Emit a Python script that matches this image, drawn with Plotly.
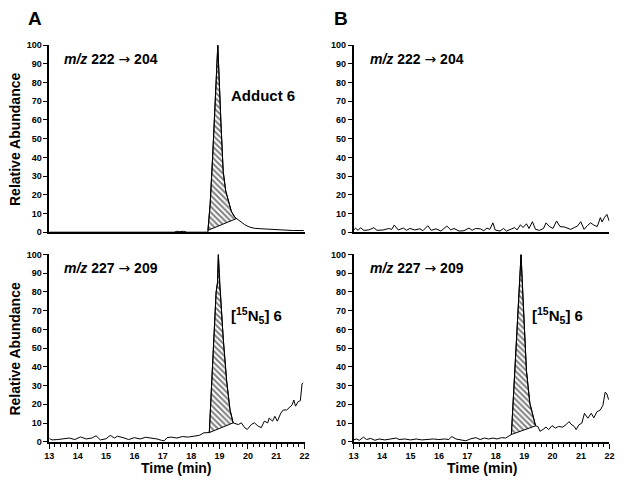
import plotly.graph_objects as go

# ---------------- data ----------------
# Panel A, m/z 222 -> 204 (Adduct 6)
a_top_pre_t = [13.0, 17.40, 17.50, 17.60, 17.75, 17.85, 18.59]
a_top_pre_v = [0.0, 0.0, 0.5, 0.3, 0.5, 0.0, 0.0]
a_top_peak_t = [18.59, 18.67, 18.76, 18.87, 18.94, 19.05, 19.13, 19.22, 19.31, 19.42, 19.54, 19.60]
a_top_peak_v = [1.0, 15.0, 41.0, 76.0, 100.0, 58.6, 32.5, 22.0, 16.8, 11.0, 8.0, 7.3]
a_top_post_t = [19.60, 19.75, 19.89, 20.05, 20.23, 20.50, 20.70, 21.00, 21.27, 21.60, 21.97]
a_top_post_v = [7.3, 5.5, 4.0, 2.8, 2.1, 1.8, 1.6, 1.3, 1.1, 0.9, 0.9]

# Panel A, m/z 227 -> 209 ([15N5] 6)
a_bot_pre_t = [13.00, 13.10, 13.30, 13.50, 13.70, 13.90, 14.10, 14.30, 14.50, 14.65, 14.80,
               15.00, 15.15, 15.30, 15.40, 15.60, 15.80, 16.00, 16.20, 16.40, 16.60, 16.80,
               16.95, 17.05, 17.15, 17.30, 17.50, 17.70, 17.90, 18.10, 18.30, 18.45, 18.64]
a_bot_pre_v = [1.7, 1.0, 1.2, 1.8, 2.0, 1.2, 2.6, 1.5, 2.0, 3.2, 1.0,
               1.6, 3.4, 2.0, 3.0, 2.2, 1.2, 2.2, 1.5, 2.4, 2.0, 1.5,
               0.8, 0.5, 2.2, 2.5, 2.0, 2.8, 2.5, 3.2, 3.5, 4.8, 4.9]
a_bot_peak_t = [18.64, 18.88, 18.93, 18.96, 19.00, 19.03, 19.13, 19.25, 19.37, 19.48]
a_bot_peak_v = [4.9, 79.8, 85.0, 100.0, 85.0, 79.8, 55.4, 32.8, 17.1, 10.1]
a_bot_post_t = [19.48, 19.66, 19.77, 19.89, 19.98, 20.12, 20.23, 20.35, 20.47, 20.58, 20.70,
                20.75, 20.87, 20.95, 21.04, 21.16, 21.25, 21.37, 21.45, 21.56, 21.62, 21.68,
                21.77, 21.85, 21.91, 21.95]
a_bot_post_v = [10.1, 9.2, 10.1, 7.5, 6.6, 9.2, 10.1, 8.5, 7.5, 11.0, 10.1,
                12.7, 11.0, 13.6, 11.0, 15.3, 17.0, 17.0, 18.0, 19.7, 22.3, 19.0,
                21.4, 22.0, 31.0, 31.4]

# Panel B, m/z 222 -> 204 (noise only)
b_top_t = [13.00, 13.07, 13.16, 13.24, 13.36, 13.53, 13.71, 13.82, 14.05, 14.23, 14.34, 14.43,
           14.57, 14.75, 14.86, 14.98, 15.15, 15.33, 15.44, 15.61, 15.73, 15.90, 16.07, 16.28,
           16.42, 16.53, 16.71, 16.88, 17.06, 17.17, 17.29, 17.46, 17.58, 17.69, 17.79, 17.90,
           17.98, 18.15, 18.27, 18.38, 18.56, 18.67, 18.75, 18.87, 18.96, 19.08, 19.17, 19.29,
           19.40, 19.54, 19.68, 19.77, 19.89, 20.01, 20.14, 20.26, 20.41, 20.53, 20.64, 20.76,
           20.87, 20.99, 21.11, 21.22, 21.34, 21.45, 21.57, 21.68, 21.74, 21.83, 21.91, 21.99]
b_top_v = [1.2, 2.1, 1.0, 2.4, 1.0, 1.2, 2.4, 1.0, 1.2, 2.0, 1.5, 3.8,
           1.2, 2.2, 1.0, 2.0, 1.2, 1.8, 0.8, 3.5, 1.0, 1.8, 0.6, 3.3,
           1.2, 2.0, 0.6, 0.8, 2.2, 1.0, 2.0, 1.8, 0.8, 2.2, 1.5, 5.0,
           1.2, 0.6, 2.0, 0.6, 1.8, 2.5, 1.2, 4.0, 2.5, 4.5, 2.0, 5.6,
           1.5, 1.0, 2.0, 5.0, 3.0, 2.0, 6.0, 3.0, 2.8, 2.2, 1.5, 2.5,
           3.2, 5.6, 1.5, 3.5, 5.0, 3.8, 3.0, 7.8, 5.5, 8.0, 9.5, 6.0]

# Panel B, m/z 227 -> 209 ([15N5] 6)
b_bot_pre_t = [13.00, 13.10, 13.20, 13.35, 13.45, 13.60, 13.75, 13.90, 14.10, 14.30, 14.50, 14.60,
               14.80, 15.00, 15.20, 15.40, 15.60, 15.80, 16.00, 16.20, 16.35, 16.45, 16.60, 16.80,
               16.95, 17.10, 17.30, 17.45, 17.60, 17.75, 17.90, 18.05, 18.20, 18.35, 18.45, 18.55]
b_bot_pre_v = [1.0, 1.5, 0.8, 2.5, 1.2, 1.8, 0.8, 1.5, 1.0, 1.6, 2.0, 1.2,
               1.5, 1.0, 1.5, 1.0, 1.2, 1.5, 1.2, 1.5, 1.2, 2.8, 1.5, 0.8,
               0.5, 1.5, 2.2, 1.2, 2.0, 1.5, 2.0, 1.5, 2.2, 2.0, 3.0, 3.9]
b_bot_peak_t = [18.55, 18.89, 18.97, 19.08, 19.20, 19.40]
b_bot_peak_v = [3.9, 100.0, 72.7, 38.0, 20.5, 8.5]
b_bot_post_t = [19.40, 19.48, 19.56, 19.68, 19.77, 19.86, 19.98, 20.10, 20.21, 20.35, 20.47,
                20.58, 20.64, 20.76, 20.83, 20.92, 21.03, 21.12, 21.24, 21.36, 21.45, 21.56,
                21.68, 21.77, 21.85, 21.91, 21.97]
b_bot_post_v = [8.5, 8.2, 5.6, 6.8, 7.9, 6.5, 8.6, 7.3, 8.2, 7.8, 9.1,
                10.8, 9.5, 8.2, 6.5, 9.0, 10.0, 15.2, 12.6, 15.2, 12.8, 16.0,
                17.0, 19.5, 26.5, 25.5, 22.5]

x_ticks = [13, 14, 15, 16, 17, 18, 19, 20, 21, 22]
y_ticks = [0, 10, 20, 30, 40, 50, 60, 70, 80, 90, 100]

FONT = "Liberation Sans, Arial, sans-serif"
W, H = 624, 484

fig = go.Figure()

panels = [
    ("x", "y", a_top_pre_t, a_top_pre_v, a_top_peak_t, a_top_peak_v, a_top_post_t, a_top_post_v),
    ("x3", "y3", a_bot_pre_t, a_bot_pre_v, a_bot_peak_t, a_bot_peak_v, a_bot_post_t, a_bot_post_v),
    ("x4", "y4", b_bot_pre_t, b_bot_pre_v, b_bot_peak_t, b_bot_peak_v, b_bot_post_t, b_bot_post_v),
]

for xa, ya, pt, pv, kt, kv, ot, ov in panels:
    # hatched peak area closed by a straight baseline
    fig.add_trace(go.Scatter(
        x=kt + [kt[0]], y=kv + [kv[0]], xaxis=xa, yaxis=ya, mode="lines",
        fill="toself", fillcolor="white",
        fillpattern=dict(shape="\\", fgcolor="black", bgcolor="white", size=4, solidity=0.5),
        line=dict(color="black", width=1), hoverinfo="skip", showlegend=False))
    fig.add_trace(go.Scatter(
        x=pt + kt[1:] + ot[1:], y=pv + kv[1:] + ov[1:], xaxis=xa, yaxis=ya, mode="lines",
        line=dict(color="black", width=1), showlegend=False))

fig.add_trace(go.Scatter(x=b_top_t, y=b_top_v, xaxis="x2", yaxis="y2", mode="lines",
                         line=dict(color="black", width=1), showlegend=False))

xL = [45 / W, 304.5 / W]
xR = [354.3 / W, 614.3 / W]
yT = [1 - 232 / H, 1 - 41 / H]
yB = [1 - 446 / H, 1 - 254.7 / H]

tickfont = dict(family=FONT, size=9, color="black", weight="bold")


def yax(domain, anchor):
    return dict(domain=domain, anchor=anchor, range=[0, 100], tickvals=y_ticks,
                ticks="outside", ticklen=4, tickwidth=1.2, tickcolor="black",
                showline=True, linecolor="black", linewidth=1.6,
                showgrid=False, zeroline=False, tickfont=tickfont, fixedrange=True)


def xax(domain, anchor, labels):
    d = dict(domain=domain, anchor=anchor, range=[13, 22], showline=True,
             linecolor="black", linewidth=1.6, showgrid=False, zeroline=False,
             tickfont=tickfont, fixedrange=True)
    if labels:
        d.update(tickvals=x_ticks, ticks="outside", ticklen=5, tickwidth=1.2,
                 tickcolor="black", showticklabels=True,
                 minor=dict(dtick=0.2, ticks="outside", ticklen=3, tickwidth=1,
                            tickcolor="black", showgrid=False))
    else:
        d.update(ticks="", showticklabels=False)
    return d


fig.update_layout(
    width=W, height=H, margin=dict(l=0, r=0, t=0, b=0),
    paper_bgcolor="white", plot_bgcolor="white",
    font=dict(family=FONT, color="black"),
    xaxis=xax(xL, "y", False), yaxis=yax(yT, "x"),
    xaxis2=xax(xR, "y2", False), yaxis2=yax(yT, "x2"),
    xaxis3=xax(xL, "y3", True), yaxis3=yax(yB, "x3"),
    xaxis4=xax(xR, "y4", True), yaxis4=yax(yB, "x4"),
)

bold14 = dict(family=FONT, size=14, color="black", weight="bold")
ARROW = '<span style="font-family:DejaVu Sans;font-weight:normal">→</span>'
ann = []


def paper_text(text, xc, yc, font, angle=0):
    ann.append(dict(text=text, x=xc / W, y=1 - yc / H, xref="paper", yref="paper",
                    xanchor="center", yanchor="middle", textangle=angle,
                    showarrow=False, font=font))


letter_font = dict(family=FONT, size=19, color="black", weight="bold")
paper_text("A", 30.5, 13.5, letter_font)
paper_text("B", 341.5, 13.5, letter_font)
for yc in (137, 351):
    paper_text("Relative Abundance", 10, yc, bold14, -90)
for xc in (174, 485):
    paper_text("Time (min)", xc, 472.5, bold14)

for xa, ya, txt, x0 in [("x", "y", f"<i>m/z</i> 222 {ARROW} 204", 13.45),
                        ("x2", "y2", f"<i>m/z</i> 222 {ARROW} 204", 13.51),
                        ("x3", "y3", f"<i>m/z</i> 227 {ARROW} 209", 13.45),
                        ("x4", "y4", f"<i>m/z</i> 227 {ARROW} 209", 13.51)]:
    ann.append(dict(text=txt, x=x0, y=92.5, xref=xa, yref=ya, xanchor="left",
                    yanchor="middle", showarrow=False, font=bold14))

ann.append(dict(text="Adduct 6", x=19.32, y=73.3, xref="x", yref="y", xanchor="left",
                yanchor="middle", showarrow=False, font=dict(bold14, size=15)))
for xa, ya, x0 in [("x3", "y3", 19.32), ("x4", "y4", 19.19)]:
    ann.append(dict(text="[<sup>15</sup>N<sub>5</sub>] 6", x=x0, y=67.4, xref=xa, yref=ya,
                    xanchor="left", yanchor="middle", showarrow=False,
                    font=dict(bold14, size=15)))
fig.update_layout(annotations=ann)

fig.write_html("out.html", config={"displayModeBar": False},
               post_script="document.body.style.margin='0';document.body.style.overflow='hidden';")
